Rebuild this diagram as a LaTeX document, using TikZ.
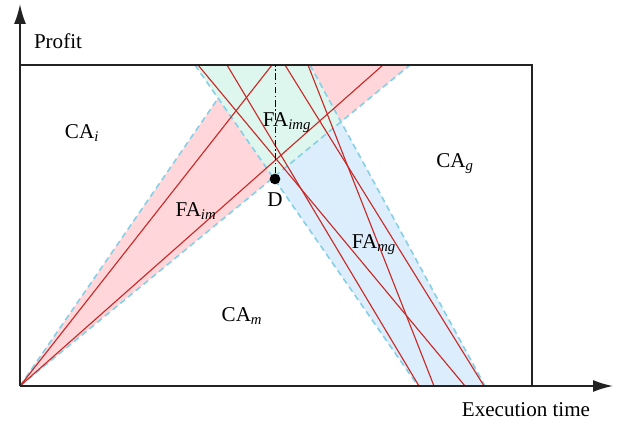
\documentclass[tikz,border=0pt]{standalone}
\usepackage{fontspec}
\setmainfont{Liberation Serif}
\usetikzlibrary{arrows.meta,calc}
\definecolor{pinkfill}{HTML}{FFD7DB}
\definecolor{greenfill}{HTML}{DDF7EE}
\definecolor{bluefill}{HTML}{DCEEFB}
\definecolor{dashc}{HTML}{86CFE6}
\definecolor{redl}{HTML}{C82A28}
\definecolor{axisc}{HTML}{222222}
\begin{document}
\begin{tikzpicture}[x=0.75pt,y=-0.75pt,
  lbl/.style={inner sep=0pt,font=\fontsize{15.8}{18}\selectfont},
  edgedash/.style={dashc,line width=1.2pt,dash pattern=on 4.5pt off 3pt},
  redline/.style={redl,line width=0.85pt},
  axisline/.style={axisc,line width=1.3pt,-{Latex[length=15pt,width=9pt]}},
  frameline/.style={axisc,line width=1.1pt}]
\useasboundingbox (0,0) rectangle (628,424);
% key points
\coordinate (O) at (20,386);
\coordinate (PL) at (410,65);
\coordinate (PU) at (241,65);
\coordinate (BL1) at (195,65);
\coordinate (BL2) at (418,386);
\coordinate (BR1) at (310,65);
\coordinate (BR2) at (485,386);
\coordinate (X1) at (intersection of O--PL and BR1--BR2);
\coordinate (X2) at (intersection of O--PL and BL1--BL2);
\coordinate (X3) at (intersection of O--PU and BL1--BL2);
% fills
\fill[pinkfill] (O) -- (PU) -- (PL) -- cycle;
\fill[greenfill] (BL1) -- (BR1) -- (X1) -- (X2) -- cycle;
\fill[bluefill] (X2) -- (X1) -- (BR2) -- (BL2) -- cycle;
% dashed boundaries
\draw[edgedash] (O) -- (X3);
\draw[edgedash] (O) -- (PL);
\draw[edgedash] (BL1) -- (BL2);
\draw[edgedash] (BR1) -- (BR2);
% red lines
\coordinate (R1) at (272,65);
\coordinate (R2) at (383,65);
\coordinate (T1) at (198,65);  \coordinate (B1) at (465,386);
\coordinate (T2) at (227,65);  \coordinate (B2) at (419,386);
\coordinate (T3) at (285,65);  \coordinate (B3) at (484,386);
\coordinate (T4) at (308,65);  \coordinate (B4) at (434,386);
\draw[redline] (O) -- (R1);
\draw[redline] (O) -- (R2);
\draw[redline] (T1) -- (B1);
\draw[redline] (T2) -- (B2);
\draw[redline] (T3) -- (B3);
\draw[redline] (T4) -- (B4);
% frame and axes
\coordinate (TL) at (20,65);
\coordinate (BR) at (532,386);
\draw[frameline] (TL) -- (BR |- TL) -- (BR);
\coordinate (YT) at (20,4);
\coordinate (XT) at (613,386);
\draw[axisline] (O) -- (YT);
\draw[axisline] (O) -- (XT);
% D point
\coordinate (Dtop) at (275,65);
\node[circle,fill=black,inner sep=0pt,minimum size=8pt] (D) at (275,179) {};
\draw[black,line width=0.6pt,dash pattern=on 5pt off 2pt on 1pt off 2pt] (D) -- (Dtop);
% labels
\node[lbl] (dl) at (275,200) {D};
\node[lbl] (cai) at (82,133) {CA\textsubscript{\textit{i}}};
\node[lbl] (faim) at (196,211) {FA\textsubscript{\textit{im}}};
\node[lbl] (faimg) at (287,123) {FA\textsubscript{\textit{img}}};
\node[lbl] (cag) at (455,164) {CA\textsubscript{\textit{g}}};
\node[lbl] (famg) at (374,245) {FA\textsubscript{\textit{mg}}};
\node[lbl] (cam) at (242,316) {CA\textsubscript{\textit{m}}};
\node[lbl] (profit) at (58,41) {Profit};
\node[lbl] (ext) at (526,410) {Execution time};
\end{tikzpicture}
\end{document}
